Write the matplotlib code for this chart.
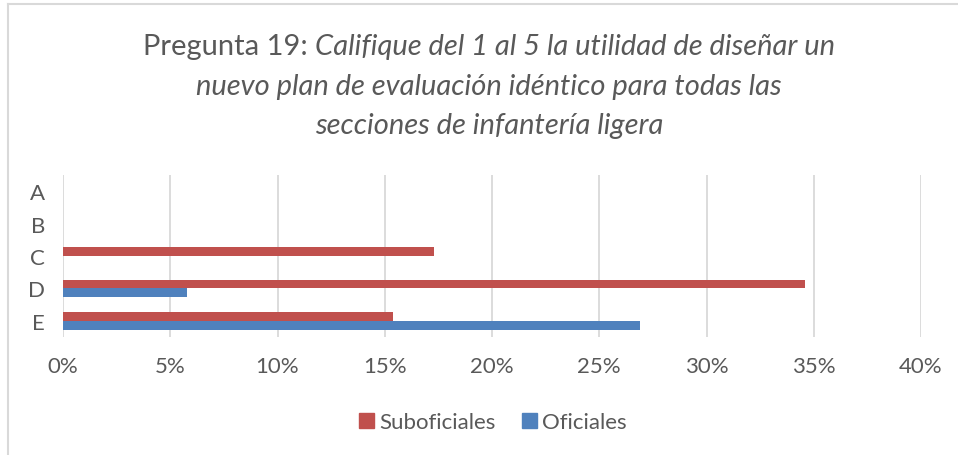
import matplotlib.pyplot as plt
from matplotlib.lines import Line2D
from matplotlib.patches import Patch

categories = ["A", "B", "C", "D", "E"]
suboficiales = [0, 0, 17.3, 34.6, 15.4]
oficiales = [0, 0, 0, 5.8, 26.9]
xticks = [0, 5, 10, 15, 20, 25, 30, 35, 40]

red = "#C0504D"
blue = "#4F81BD"
txt = "#595959"
font = "Lato"

fig = plt.figure(figsize=(9.58, 4.56), dpi=100)
ax = fig.add_axes([63 / 958, 1 - 338 / 456, (921 - 63) / 958, 162 / 456])

ypos = list(range(len(categories)))
h = 0.27
ax.barh([y - h / 2 for y in ypos], suboficiales, height=h, color=red, zorder=3)
ax.barh([y + h / 2 for y in ypos], oficiales, height=h, color=blue, zorder=3)

ax.set_xlim(0, 40)
ax.set_ylim(len(categories) - 0.5, -0.5)
ax.set_yticks(ypos)
ax.set_yticklabels(categories, fontsize=16, color=txt, family=font)
ax.set_xticks(xticks)
ax.set_xticklabels([f"{v}%" for v in xticks], fontsize=16, color=txt, family=font)
ax.tick_params(length=0)
ax.tick_params(axis="x", pad=14)
ax.tick_params(axis="y", pad=13)
ax.grid(axis="x", color="#d9d9d9", linewidth=1.3, zorder=0)
for s in ax.spines.values():
    s.set_visible(False)

# title: first part upright, the rest italic
fig.canvas.draw()
r = fig.canvas.get_renderer()
fs = 21
cx = 489 / 958
t1 = fig.text(0, 0, "Pregunta 19: ", fontsize=fs, color=txt, family=font)
t2 = fig.text(0, 0, "Califique del 1 al 5 la utilidad de diseñar un", fontsize=fs,
              color=txt, family=font, style="italic")
w1 = t1.get_window_extent(r).width
w2 = t2.get_window_extent(r).width
x0 = 489 - (w1 + w2) / 2
y1 = 1 - 47 / 456
t1.set_position((x0 / 958, y1))
t1.set_va("center")
t2.set_position(((x0 + w1) / 958, y1))
t2.set_va("center")
fig.text(cx, 1 - 87 / 456, "nuevo plan de evaluación idéntico para todas las", fontsize=fs,
         color=txt, family=font, style="italic", ha="center", va="center")
fig.text(cx, 1 - 126 / 456, "secciones de infantería ligera", fontsize=fs,
         color=txt, family=font, style="italic", ha="center", va="center")

handles = [Patch(color=red, label="Suboficiales"), Patch(color=blue, label="Oficiales")]
fig.legend(handles=handles, loc="center", bbox_to_anchor=(493 / 958, 1 - 423 / 456),
           ncol=2, frameon=False, prop={"family": font, "size": 16},
           labelcolor=txt, handlelength=0.65, handleheight=0.65, handletextpad=0.25,
           columnspacing=1.2)

# light border on left and top
fig.add_artist(Line2D([8 / 958, 8 / 958], [0, 1 - 5 / 456], color="#d9d9d9", lw=1.5,
                      transform=fig.transFigure))
fig.add_artist(Line2D([8 / 958, 1], [1 - 5 / 456, 1 - 5 / 456], color="#d9d9d9", lw=1.5,
                      transform=fig.transFigure))

fig.savefig("out.png", dpi=100)
